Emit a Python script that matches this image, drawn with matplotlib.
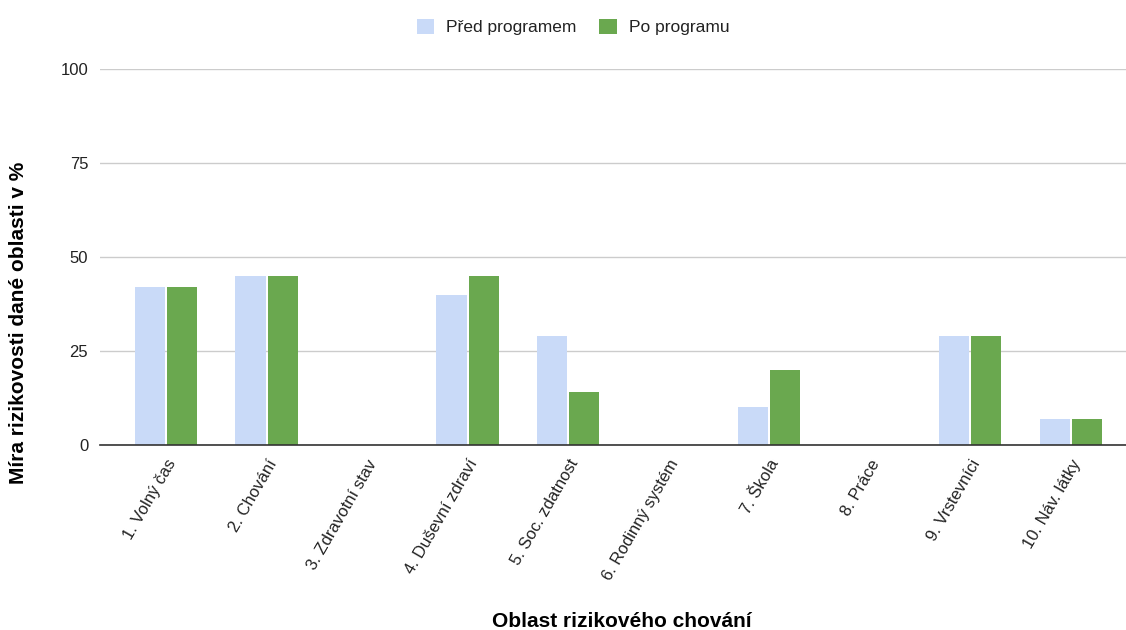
import matplotlib
matplotlib.use("Agg")
import matplotlib.pyplot as plt
import numpy as np

plt.rcParams['font.family'] = ['Liberation Sans', 'DejaVu Sans']

categories = ["1. Volný čas", "2. Chování", "3. Zdravotní stav", "4. Duševní zdraví",
              "5. Soc. zdatnost", "6. Rodinný systém", "7. Škola", "8. Práce",
              "9. Vrstevníci", "10. Náv. látky"]
before = [42, 45, 0, 40, 29, 0, 10, 0, 29, 7]
after = [42, 45, 0, 45, 14, 0, 20, 0, 29, 7]
series_names = ["Před programem", "Po programu"]
y_ticks = [0, 25, 50, 75, 100]

c_before = "#c9daf8"
c_after = "#6aa84f"

fig = plt.figure(figsize=(11.26, 6.3), dpi=100)
ax = fig.add_axes([100 / 1126, 1 - 445 / 630, 1026 / 1126, (445 - 69) / 630])

x = np.arange(len(categories))
w = 0.30
off = 0.16
ax.bar(x - off, before, width=w, color=c_before, zorder=3, label=series_names[0])
ax.bar(x + off, after, width=w, color=c_after, zorder=3, label=series_names[1])

ax.set_xlim(-0.657, 9.55)
ax.set_ylim(0, 100)
ax.set_yticks(y_ticks)
ax.set_yticklabels([str(v) for v in y_ticks], fontsize=12, color="#222222")
ax.yaxis.grid(True, color="#cccccc", linewidth=1, zorder=0)
ax.tick_params(axis="y", length=0, pad=8.5)
ax.tick_params(axis="x", length=0, pad=8.5)

ax.set_xticks(x)
ax.set_xticklabels(categories, rotation=60, ha="right", va="top",
                   rotation_mode="anchor", fontsize=12, color="#222222")

for s in ["top", "right", "left"]:
    ax.spines[s].set_visible(False)
ax.spines["bottom"].set_color("#333333")
ax.spines["bottom"].set_linewidth(1.2)
ax.spines["bottom"].set_zorder(4)

fig.text(19 / 1126, 1 - 323 / 630, "Míra rizikovosti dané oblasti v %", rotation=90,
         ha="center", va="center", fontsize=15, fontweight="bold", color="#000000")
fig.text(622 / 1126, 1 - 627 / 630, "Oblast rizikového chování",
         ha="center", va="baseline", fontsize=15, fontweight="bold", color="#000000")

leg = fig.legend(loc="center", bbox_to_anchor=(573 / 1126, 1 - 27 / 630), ncol=2,
                 frameon=False, fontsize=12.5, handlelength=1.0, handleheight=1.0,
                 handletextpad=0.7, columnspacing=1.3)
for t in leg.get_texts():
    t.set_color("#222222")

fig.savefig("out.png", dpi=100)
